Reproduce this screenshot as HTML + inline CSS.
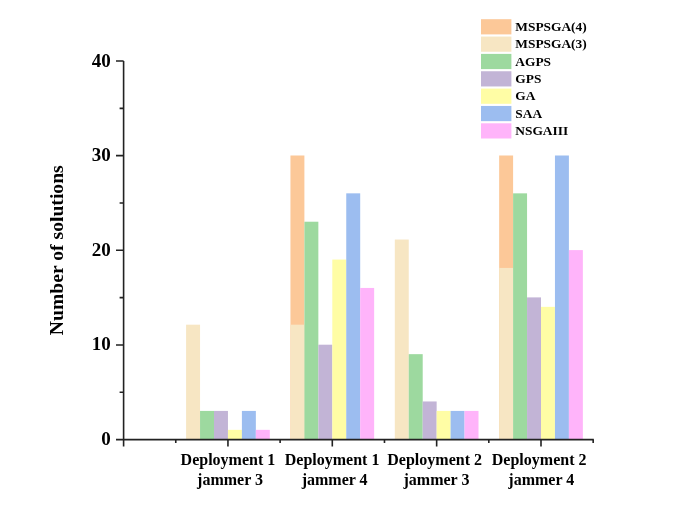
<!DOCTYPE html><html><head><meta charset="utf-8"><style>html,body{margin:0;padding:0;background:#fff;}svg{display:block;will-change:transform;}text{font-family:"Liberation Serif",serif;font-weight:bold;fill:#000;}</style></head><body>
<svg width="685" height="527" viewBox="0 0 685 527">
<rect x="186.10" y="324.68" width="13.95" height="114.92" fill="#F7E6C3"/>
<rect x="200.05" y="410.92" width="13.95" height="28.68" fill="#9DD99F"/>
<rect x="214.00" y="410.92" width="13.95" height="28.68" fill="#C2B4D6"/>
<rect x="227.95" y="429.84" width="13.95" height="9.76" fill="#FFFDA5"/>
<rect x="241.90" y="410.92" width="13.95" height="28.68" fill="#9CBDF0"/>
<rect x="255.85" y="429.84" width="13.95" height="9.76" fill="#FFB4FA"/>
<rect x="290.45" y="155.50" width="13.95" height="284.10" fill="#FCC898"/>
<rect x="290.45" y="324.68" width="13.95" height="114.92" fill="#F7E6C3"/>
<rect x="304.40" y="221.72" width="13.95" height="217.88" fill="#9DD99F"/>
<rect x="318.35" y="344.70" width="13.95" height="94.90" fill="#C2B4D6"/>
<rect x="332.30" y="259.56" width="13.95" height="180.04" fill="#FFFDA5"/>
<rect x="346.25" y="193.34" width="13.95" height="246.26" fill="#9CBDF0"/>
<rect x="360.20" y="287.94" width="13.95" height="151.66" fill="#FFB4FA"/>
<rect x="394.80" y="239.54" width="13.95" height="200.06" fill="#F7E6C3"/>
<rect x="408.75" y="354.16" width="13.95" height="85.44" fill="#9DD99F"/>
<rect x="422.70" y="401.46" width="13.95" height="38.14" fill="#C2B4D6"/>
<rect x="436.65" y="410.92" width="13.95" height="28.68" fill="#FFFDA5"/>
<rect x="450.60" y="410.92" width="13.95" height="28.68" fill="#9CBDF0"/>
<rect x="464.55" y="410.92" width="13.95" height="28.68" fill="#FFB4FA"/>
<rect x="499.15" y="155.50" width="13.95" height="284.10" fill="#FCC898"/>
<rect x="499.15" y="267.92" width="13.95" height="171.68" fill="#F7E6C3"/>
<rect x="513.10" y="193.34" width="13.95" height="246.26" fill="#9DD99F"/>
<rect x="527.05" y="297.40" width="13.95" height="142.20" fill="#C2B4D6"/>
<rect x="541.00" y="306.86" width="13.95" height="132.74" fill="#FFFDA5"/>
<rect x="554.95" y="155.50" width="13.95" height="284.10" fill="#9CBDF0"/>
<rect x="568.90" y="250.10" width="13.95" height="189.50" fill="#FFB4FA"/>
<path d="M123.6,61.0V446.6 M116.0,439.6H593.8 M119.6,392.28H123.6 M116.0,344.95H123.6 M119.6,297.62H123.6 M116.0,250.30H123.6 M119.6,202.98H123.6 M116.0,155.65H123.6 M119.6,108.33H123.6 M116.0,61.00H123.6 M227.95,439.6v7.0 M332.30,439.6v7.0 M436.65,439.6v7.0 M541.00,439.6v7.0 M175.77,439.6v3.4 M280.12,439.6v3.4 M384.48,439.6v3.4 M488.82,439.6v3.4 M593.17,439.6v3.4" stroke="#222" stroke-width="1.6" fill="none"/>
<text x="110.8" y="445.10" font-size="19" text-anchor="end">0</text>
<text x="110.8" y="350.45" font-size="19" text-anchor="end">10</text>
<text x="110.8" y="255.80" font-size="19" text-anchor="end">20</text>
<text x="110.8" y="161.15" font-size="19" text-anchor="end">30</text>
<text x="110.8" y="66.50" font-size="19" text-anchor="end">40</text>
<text transform="translate(63.0,250.2) rotate(-90)" font-size="19.65" text-anchor="middle">Number of solutions</text>
<text x="227.95" y="465.0" font-size="16.0" text-anchor="middle">Deployment 1</text>
<text x="230.05" y="485.3" font-size="16.0" text-anchor="middle">jammer 3</text>
<text x="332.10" y="465.0" font-size="16.0" text-anchor="middle">Deployment 1</text>
<text x="334.60" y="485.3" font-size="16.0" text-anchor="middle">jammer 4</text>
<text x="434.65" y="465.0" font-size="16.0" text-anchor="middle">Deployment 2</text>
<text x="436.45" y="485.3" font-size="16.0" text-anchor="middle">jammer 3</text>
<text x="539.15" y="465.0" font-size="16.0" text-anchor="middle">Deployment 2</text>
<text x="541.30" y="485.3" font-size="16.0" text-anchor="middle">jammer 4</text>
<rect x="481.0" y="19.20" width="30.4" height="15.2" fill="#FCC898"/>
<text x="515.3" y="31.00" font-size="13.4">MSPSGA(4)</text>
<rect x="481.0" y="36.55" width="30.4" height="15.2" fill="#F7E6C3"/>
<text x="515.3" y="48.35" font-size="13.4">MSPSGA(3)</text>
<rect x="481.0" y="53.90" width="30.4" height="15.2" fill="#9DD99F"/>
<text x="515.3" y="65.70" font-size="13.4">AGPS</text>
<rect x="481.0" y="71.25" width="30.4" height="15.2" fill="#C2B4D6"/>
<text x="515.3" y="83.05" font-size="13.4">GPS</text>
<rect x="481.0" y="88.60" width="30.4" height="15.2" fill="#FFFDA5"/>
<text x="515.3" y="100.40" font-size="13.4">GA</text>
<rect x="481.0" y="105.95" width="30.4" height="15.2" fill="#9CBDF0"/>
<text x="515.3" y="117.75" font-size="13.4">SAA</text>
<rect x="481.0" y="123.30" width="30.4" height="15.2" fill="#FFB4FA"/>
<text x="515.3" y="135.10" font-size="13.4">NSGAIII</text>
</svg></body></html>
